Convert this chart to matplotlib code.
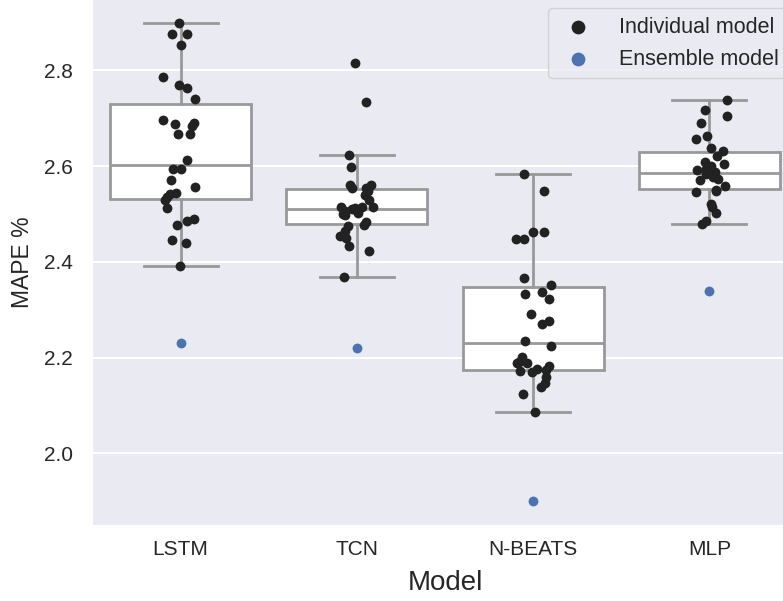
import numpy as np
import matplotlib
matplotlib.use('Agg')
import matplotlib.pyplot as plt
from matplotlib.ticker import MultipleLocator

# values (MAPE %), jitter = horizontal offset in category units
models = ['LSTM', 'TCN', 'N-BEATS', 'MLP']

lstm_mape = [2.900, 2.877, 2.877, 2.853, 2.786, 2.769, 2.763, 2.740, 2.697, 2.687,
             2.691, 2.684, 2.667, 2.667, 2.612, 2.593, 2.593, 2.571, 2.557, 2.543,
             2.542, 2.536, 2.529, 2.513, 2.490, 2.486, 2.476, 2.446, 2.439, 2.392]
lstm_jitter = [-0.009, -0.047, 0.034, 0.000, -0.098, -0.009, 0.034, 0.081, -0.098, -0.034,
               0.075, 0.062, -0.013, 0.053, 0.039, -0.041, 0.002, -0.056, 0.083, -0.028,
               -0.060, -0.079, -0.090, -0.079, 0.075, 0.038, -0.019, -0.051, 0.028, -0.004]

tcn_mape = [2.816, 2.733, 2.623, 2.599, 2.561, 2.554, 2.554, 2.561, 2.547, 2.514,
            2.507, 2.510, 2.507, 2.515, 2.514, 2.500, 2.502, 2.484, 2.476, 2.475,
            2.465, 2.454, 2.449, 2.432, 2.423, 2.368, 2.497, 2.512, 2.530, 2.540]
tcn_jitter = [-0.009, 0.053, -0.043, -0.032, -0.038, -0.028, 0.053, 0.081, 0.062, -0.088,
              -0.066, -0.028, 0.000, 0.028, 0.090, -0.079, 0.006, 0.053, 0.038, -0.051,
              -0.066, -0.098, -0.060, -0.043, 0.066, -0.075, -0.070, -0.010, 0.070, 0.045]

nbeats_mape = [2.583, 2.548, 2.462, 2.462, 2.447, 2.447, 2.367, 2.351, 2.333, 2.336,
               2.322, 2.290, 2.276, 2.270, 2.235, 2.224, 2.201, 2.188, 2.188, 2.171,
               2.169, 2.176, 2.182, 2.174, 2.160, 2.146, 2.139, 2.124, 2.086, 2.190]
nbeats_jitter = [-0.051, 0.064, 0.002, 0.062, -0.096, -0.049, -0.054, 0.100, -0.047, 0.051,
                 0.088, -0.013, 0.090, 0.053, -0.045, 0.100, -0.064, -0.092, -0.036, -0.073,
                 -0.009, 0.021, 0.090, 0.071, 0.071, 0.066, 0.043, -0.056, 0.011, -0.080]

mlp_mape = [2.738, 2.717, 2.705, 2.690, 2.657, 2.663, 2.638, 2.632, 2.621, 2.609,
            2.604, 2.600, 2.591, 2.593, 2.585, 2.582, 2.571, 2.573, 2.559, 2.550,
            2.545, 2.521, 2.515, 2.502, 2.486, 2.479, 2.548, 2.578, 2.583, 2.588]
mlp_jitter = [0.098, -0.024, 0.098, -0.045, -0.077, -0.011, 0.008, 0.077, 0.045, -0.024,
              0.083, 0.011, -0.068, -0.021, -0.008, 0.026, -0.056, 0.051, 0.086, 0.036,
              -0.075, 0.011, 0.017, 0.036, -0.021, -0.043, 0.040, 0.020, -0.020, 0.030]

ensemble_mape = [2.230, 2.219, 1.900, 2.340]

individual = [lstm_mape, tcn_mape, nbeats_mape, mlp_mape]
jitters = [lstm_jitter, tcn_jitter, nbeats_jitter, mlp_jitter]

plt.rcParams['font.family'] = ['Liberation Sans', 'DejaVu Sans']
plt.rcParams['text.color'] = '#262626'
plt.rcParams['axes.labelcolor'] = '#262626'
plt.rcParams['xtick.color'] = '#262626'
plt.rcParams['ytick.color'] = '#262626'

fig = plt.figure(figsize=(7.83, 6.01), dpi=100)
# axes runs a little past the right edge, like the cropped original
ax = fig.add_axes([92.5 / 783, 76 / 601, 705 / 783, 526.4 / 601])
ax.set_facecolor('#EAEAF2')
for s in ax.spines.values():
    s.set_visible(False)

pos = np.arange(len(models))
gray = '#999999'
ax.boxplot(individual, positions=pos, widths=0.8, capwidths=0.42, showfliers=False,
           patch_artist=True, manage_ticks=False,
           boxprops=dict(facecolor='white', edgecolor=gray, linewidth=2.0),
           whiskerprops=dict(color=gray, linewidth=2.0),
           capprops=dict(color=gray, linewidth=2.0),
           medianprops=dict(color=gray, linewidth=2.0), zorder=2)

for i in range(len(models)):
    xs = pos[i] + np.array(jitters[i])
    h1 = ax.scatter(xs, individual[i], s=50, color='#222222', linewidths=0, zorder=3)
h2 = ax.scatter(pos, ensemble_mape, s=50, color='#4C72B0', linewidths=0, zorder=3)
h1.set_label('Individual model')
h2.set_label('Ensemble model')

ax.set_xlim(-0.5, 3.5)
ax.set_xticks(pos)
ax.set_xticklabels(models)
ax.yaxis.set_major_locator(MultipleLocator(0.2))
ax.yaxis.grid(True, color='white', linewidth=1.5)
ax.set_axisbelow(True)
ax.tick_params(axis='x', length=0, pad=11, labelsize=15)
ax.tick_params(axis='y', length=0, pad=14, labelsize=15)

ax.set_xlabel('Model', fontsize=20, labelpad=8)
ax.set_ylabel('MAPE %', fontsize=16.5, labelpad=7)

leg = ax.legend(handles=[h1, h2], loc='upper right', fontsize=15.5, markerscale=1.4,
                handletextpad=0.9, borderaxespad=0.45,
                facecolor='#EAEAF2', edgecolor='#CCCCCC', framealpha=0.8)

fig.savefig('out.png', dpi=100)
